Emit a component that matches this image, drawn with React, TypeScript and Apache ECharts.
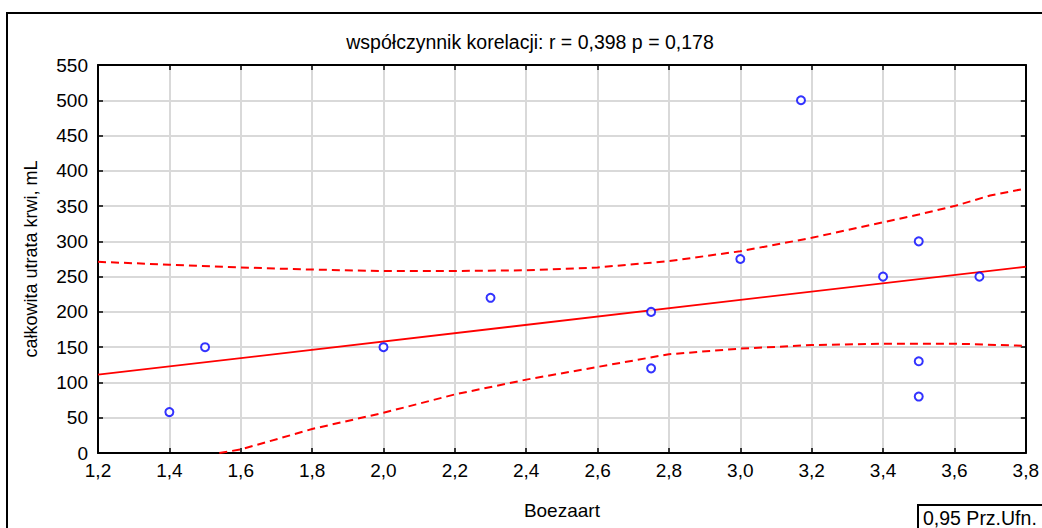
import React, { useEffect, useRef } from "react";
import * as echarts from "echarts";

const titleText = "współczynnik korelacji: r = 0,398 p = 0,178";
const xName = "Boezaart";
const yName = "całkowita utrata krwi, mL";
const legendText = "0,95 Prz.Ufn.";

const pointsX = [1.4, 1.5, 2.0, 2.3, 2.75, 2.75, 3.0, 3.17, 3.4, 3.5, 3.5, 3.5, 3.67];
const pointsY = [58, 150, 150, 220, 200, 120, 275, 500, 250, 300, 130, 80, 250];

const fitX = [1.2, 3.8];
const fitY = [111, 264];

const upperX = [1.2, 1.4, 1.6, 1.8, 2.0, 2.2, 2.4, 2.6, 2.8, 3.0, 3.2, 3.4, 3.5, 3.6, 3.7, 3.8];
const upperY = [271, 267, 263, 260, 258, 258, 259, 263, 272, 286, 305, 327, 338, 350, 365, 375];

const lowerX = [1.54, 1.6, 1.8, 2.0, 2.2, 2.4, 2.6, 2.8, 3.0, 3.2, 3.4, 3.6, 3.8];
const lowerY = [0, 5, 34, 57, 83, 104, 122, 140, 148, 153, 155, 155, 152];

const xMin = 1.2, xMax = 3.8, xStep = 0.2;
const yMin = 0, yMax = 550, yStep = 50;

const FONT = "'Liberation Sans', Arial, sans-serif";

export default function App() {
  const ref = useRef<HTMLDivElement>(null);
  useEffect(() => {
    if (!ref.current) return;
    const chart = echarts.init(ref.current, null, { renderer: "svg" });
    const zip = (xs: number[], ys: number[]) => xs.map((x, i) => [x, ys[i]]);
    const fmtX = (v: number) => v.toFixed(1).replace(".", ",");
    const baseX = {
      type: "value",
      min: xMin,
      max: xMax,
      interval: xStep,
      axisLine: { show: true, onZero: false, lineStyle: { color: "#000", width: 2 } },
      axisTick: { show: true, inside: true, length: 5, lineStyle: { color: "#000", width: 1.5 } },
    };
    const baseY = {
      type: "value",
      min: yMin,
      max: yMax,
      interval: yStep,
      axisLine: { show: true, onZero: false, lineStyle: { color: "#000", width: 2 } },
      axisTick: { show: true, inside: true, length: 5, lineStyle: { color: "#000", width: 1.5 } },
    };
    chart.setOption({
      animation: false,
      backgroundColor: "#fff",
      textStyle: { fontFamily: FONT },
      grid: { left: 98, right: 15, top: 65, bottom: 75, containLabel: false },
      xAxis: [
        {
          ...baseX,
          position: "bottom",
          name: xName,
          nameLocation: "middle",
          nameGap: 48,
          nameTextStyle: { fontSize: 19, color: "#000", fontFamily: FONT },
          axisLabel: { formatter: fmtX, fontSize: 19, color: "#000", margin: 8, fontFamily: FONT },
          splitLine: { show: true, lineStyle: { color: "#d9d9d9", width: 2 } },
        },
        {
          ...baseX,
          position: "top",
          axisLabel: { show: false },
          splitLine: { show: false },
        },
      ],
      yAxis: [
        {
          ...baseY,
          position: "left",
          name: yName,
          nameLocation: "middle",
          nameGap: 58,
          nameTextStyle: { fontSize: 18, color: "#000", fontFamily: FONT },
          axisLabel: { fontSize: 19, color: "#000", margin: 10, fontFamily: FONT },
          splitLine: { show: true, lineStyle: { color: "#d9d9d9", width: 2 } },
        },
        {
          ...baseY,
          position: "right",
          axisLabel: { show: false },
          splitLine: { show: false },
        },
      ],
      graphic: [
        {
          type: "rect",
          shape: { x: 7, y: 13, width: 1200, height: 700 },
          style: { fill: "none", stroke: "#000", lineWidth: 2 },
          silent: true,
          z: -1,
        },
        {
          type: "text",
          x: 530,
          y: 42,
          style: {
            text: titleText,
            fontSize: 19.5,
            fontFamily: FONT,
            fill: "#000",
            textAlign: "center",
            textVerticalAlign: "middle",
          },
        },
        {
          type: "rect",
          shape: { x: 918, y: 505, width: 200, height: 60 },
          style: { fill: "#fff", stroke: "#000", lineWidth: 2 },
        },
        {
          type: "text",
          x: 923,
          y: 518,
          style: {
            text: legendText,
            fontSize: 19.5,
            fontFamily: FONT,
            fill: "#000",
            textAlign: "left",
            textVerticalAlign: "middle",
          },
        },
      ],
      series: [
        {
          type: "line",
          data: zip(upperX, upperY),
          showSymbol: false,
          clip: true,
          lineStyle: { color: "#ff0000", width: 2, type: [8, 5] },
          z: 3,
        },
        {
          type: "line",
          data: zip(lowerX, lowerY),
          showSymbol: false,
          clip: true,
          lineStyle: { color: "#ff0000", width: 2, type: [8, 5] },
          z: 3,
        },
        {
          type: "line",
          data: zip(fitX, fitY),
          showSymbol: false,
          clip: true,
          lineStyle: { color: "#ff0000", width: 1.8 },
          z: 4,
        },
        {
          type: "scatter",
          data: zip(pointsX, pointsY),
          symbol: "circle",
          symbolSize: 8,
          itemStyle: { color: "#fff", borderColor: "#0000ff", borderWidth: 2 },
          z: 5,
        },
      ],
    });
    return () => chart.dispose();
  }, []);
  return (
    <div
      ref={ref}
      style={{ position: "absolute", left: 0, top: 0, width: 1042, height: 528 }}
    />
  );
}
